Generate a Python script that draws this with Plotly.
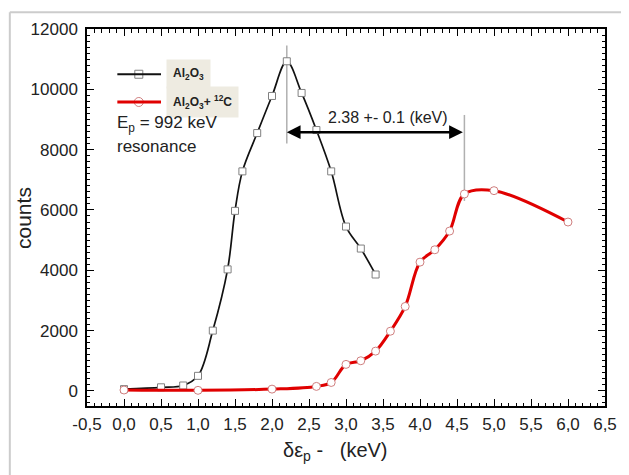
import plotly.graph_objects as go

# Al2O3 data
x_al2o3 = [0.0, 0.5, 0.8, 1.0, 1.2, 1.4, 1.5, 1.6, 1.8, 2.0, 2.2, 2.4, 2.6, 2.8, 3.0, 3.2, 3.4]
y_al2o3 = [60, 120, 180, 500, 2000, 4030, 5970, 7280, 8550, 9780, 10930, 9880, 8650, 7280, 5450, 4720, 3860]

# Al2O3 + 12C data
x_c = [0.0, 1.0, 2.0, 2.6, 2.8, 3.0, 3.2, 3.4, 3.6, 3.8, 4.0, 4.2, 4.4, 4.6, 5.0, 6.0]
y_c = [30, 20, 60, 150, 280, 880, 1000, 1320, 1980, 2800, 4270, 4680, 5300, 6530, 6640, 5600]

x_tickvals = [-0.5, 0.0, 0.5, 1.0, 1.5, 2.0, 2.5, 3.0, 3.5, 4.0, 4.5, 5.0, 5.5, 6.0, 6.5]
x_ticktext = ["-0,5", "0,0", "0,5", "1,0", "1,5", "2,0", "2,5", "3,0", "3,5", "4,0", "4,5", "5,0", "5,5", "6,0", "6,5"]
y_tickvals = [0, 2000, 4000, 6000, 8000, 10000, 12000]
y_ticktext = ["0", "2000", "4000", "6000", "8000", "10000", "12000"]

FONT = "Liberation Sans, Arial"

fig = go.Figure()

fig.add_trace(go.Scatter(
    x=x_al2o3, y=y_al2o3, mode="lines+markers",
    line=dict(color="#111111", width=1.7, shape="spline", smoothing=1.0),
    marker=dict(symbol="square", size=7, color="white", line=dict(color="#808080", width=1)),
    showlegend=False))

fig.add_trace(go.Scatter(
    x=x_c, y=y_c, mode="lines+markers",
    line=dict(color="#e00000", width=3, shape="spline", smoothing=1.0),
    marker=dict(symbol="circle", size=8, color="white", line=dict(color="#d08080", width=1)),
    showlegend=False))

# legend sample markers
fig.add_trace(go.Scatter(x=[0.2], y=[10500], mode="markers",
                         marker=dict(symbol="square", size=8, color="white", line=dict(color="#808080", width=1)),
                         showlegend=False, hoverinfo="skip"))
fig.add_trace(go.Scatter(x=[0.2], y=[9580], mode="markers",
                         marker=dict(symbol="circle", size=9, color="white", line=dict(color="#d08080", width=1)),
                         showlegend=False, hoverinfo="skip"))

# invisible trace on mirror axes (top / right ticks)
fig.add_trace(go.Scatter(x=[0.0], y=[0.0], xaxis="x2", yaxis="y2", mode="markers",
                         marker=dict(opacity=0), showlegend=False, hoverinfo="skip"))

shapes = []
shapes.append(dict(type="line", xref="x", yref="y", x0=2.2, x1=2.2, y0=8200, y1=11450,
                   line=dict(color="#b0b0b0", width=1.5), layer="below"))
shapes.append(dict(type="line", xref="x", yref="y", x0=4.6, x1=4.6, y0=6300, y1=9150,
                   line=dict(color="#b0b0b0", width=1.5), layer="below"))
shapes.append(dict(type="line", xref="x", yref="y", x0=-0.09, x1=0.5, y0=10500, y1=10500,
                   line=dict(color="#111111", width=1.8)))
shapes.append(dict(type="line", xref="x", yref="y", x0=-0.09, x1=0.5, y0=9580, y1=9580,
                   line=dict(color="#e00000", width=3)))
# image border (light gray)
shapes.append(dict(type="line", xref="paper", yref="paper", x0=-0.149, x1=1.2, y0=1.0446, y1=1.0446,
                   line=dict(color="#cccccc", width=2)))
shapes.append(dict(type="line", xref="paper", yref="paper", x0=-0.149, x1=-0.149, y0=1.0446, y1=-0.3,
                   line=dict(color="#cccccc", width=2)))

annotations = [
    dict(x=0.57, y=10500, xref="x", yref="y", xanchor="left", yanchor="middle",
         text="<b>Al<sub>2</sub>O<sub>3</sub></b>", showarrow=False,
         font=dict(family=FONT, size=12, color="#222"),
         bgcolor="#eeebe1", borderpad=6),
    dict(x=0.57, y=9580, xref="x", yref="y", xanchor="left", yanchor="middle",
         text="<b>Al<sub>2</sub>O<sub>3</sub>+ <sup>12</sup>C</b>", showarrow=False,
         font=dict(family=FONT, size=12, color="#222"),
         bgcolor="#eeebe1", borderpad=6),
    dict(x=-0.12, y=8860, xref="x", yref="y", xanchor="left", yanchor="middle",
         text="E<sub>p</sub> = 992 keV", showarrow=False,
         font=dict(family=FONT, size=17, color="#222")),
    dict(x=-0.12, y=8110, xref="x", yref="y", xanchor="left", yanchor="middle",
         text="resonance", showarrow=False,
         font=dict(family=FONT, size=17, color="#222")),
    dict(x=3.57, y=9080, xref="x", yref="y", text="2.38 +- 0.1 (keV)", showarrow=False,
         font=dict(family=FONT, size=16, color="#222")),
    dict(x=2.2, y=8580, ax=4.6, ay=8580, xref="x", yref="y", axref="x", ayref="y",
         text="", showarrow=True, arrowhead=2, startarrowhead=2, arrowside="end+start",
         arrowsize=1.1, arrowwidth=2.5, arrowcolor="#000000"),
    dict(x=0.48, y=-0.121, xref="paper", yref="paper", xanchor="center", yanchor="middle",
         text="δε<sub>p</sub> -   (keV)", showarrow=False,
         font=dict(family=FONT, size=20, color="#222")),
    dict(x=-0.1226, y=0.5, xref="paper", yref="paper", xanchor="center", yanchor="middle",
         text="counts", textangle=-90, showarrow=False,
         font=dict(family=FONT, size=21, color="#222")),
]

tick_common = dict(ticks="inside", ticklen=7, tickwidth=1.3, tickcolor="black",
                   showgrid=False, zeroline=False)

fig.update_layout(
    width=621, height=467,
    paper_bgcolor="white", plot_bgcolor="white",
    margin=dict(l=79, r=12, t=17, b=69),
    shapes=shapes, annotations=annotations,
    xaxis=dict(range=[-0.5, 6.5], tickvals=x_tickvals, ticktext=x_ticktext,
               showline=True, linecolor="black", linewidth=1.5, mirror=True,
               minor=dict(ticks="inside", dtick=0.1, ticklen=3.5, tickwidth=1, tickcolor="black"),
               tickfont=dict(family=FONT, size=17, color="#222"), ticklabelstandoff=2,
               **tick_common),
    yaxis=dict(range=[-500, 12000], tickvals=y_tickvals, ticktext=y_ticktext,
               showline=True, linecolor="black", linewidth=1.5, mirror=True,
               minor=dict(ticks="inside", dtick=200, ticklen=3.5, tickwidth=1, tickcolor="black"),
               tickfont=dict(family=FONT, size=17, color="#222"), ticklabelstandoff=4,
               **tick_common),
    xaxis2=dict(range=[-0.5, 6.5], overlaying="x", side="top", tickvals=x_tickvals,
                showticklabels=False, anchor="y2",
                minor=dict(ticks="inside", dtick=0.1, ticklen=3.5, tickwidth=1, tickcolor="black"),
                **tick_common),
    yaxis2=dict(range=[-500, 12000], overlaying="y", side="right", tickvals=y_tickvals,
                showticklabels=False, anchor="x2",
                minor=dict(ticks="inside", dtick=200, ticklen=3.5, tickwidth=1, tickcolor="black"),
                **tick_common),
)

fig.write_html("out.html")
